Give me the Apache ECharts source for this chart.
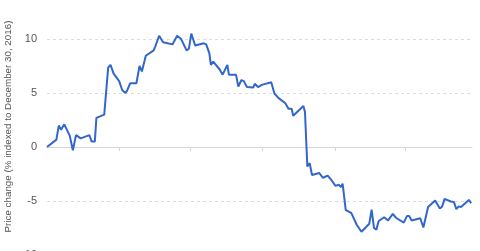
<!DOCTYPE html>
<html>
<head>
<meta charset="utf-8">
<script src="https://cdn.jsdelivr.net/npm/echarts@6/dist/echarts.min.js"></script>
<style>
html,body{margin:0;padding:0;background:#fff;}
#chart{width:480px;height:251px;}
</style>
</head>
<body>
<div id="chart"></div>
<script>
var dates = [
'2016-12-30','2017-01-11','2017-01-14','2017-01-17','2017-01-21','2017-01-28','2017-02-01','2017-02-05','2017-02-07','2017-02-11',
'2017-02-22','2017-02-25','2017-03-01','2017-03-03','2017-03-13','2017-03-18','2017-03-21','2017-03-25','2017-04-01','2017-04-05',
'2017-04-09','2017-04-11','2017-04-15','2017-04-23','2017-04-27','2017-04-30','2017-05-05','2017-05-15','2017-05-17','2017-05-22',
'2017-05-24','2017-05-27','2017-06-08','2017-06-14','2017-06-19','2017-06-26','2017-06-29','2017-07-02','2017-07-07','2017-07-18',
'2017-07-21','2017-07-25','2017-07-27','2017-07-30','2017-08-07','2017-08-11','2017-08-13','2017-08-17','2017-08-19','2017-08-28',
'2017-08-31','2017-09-02','2017-09-04','2017-09-07','2017-09-11','2017-09-19','2017-09-21','2017-09-25','2017-09-30','2017-10-12',
'2017-10-16','2017-10-21','2017-10-30','2017-11-03','2017-11-07','2017-11-09','2017-11-22','2017-11-24','2017-11-27','2017-11-30',
'2017-12-03','2017-12-12','2017-12-17','2017-12-23','2017-12-28','2018-01-02','2018-01-06','2018-01-09','2018-01-11','2018-01-15',
'2018-01-22','2018-01-29','2018-02-04','2018-02-14','2018-02-17','2018-02-20','2018-02-23','2018-02-26','2018-03-05','2018-03-07',
'2018-03-10','2018-03-16','2018-03-20','2018-03-30','2018-04-03','2018-04-06','2018-04-09','2018-04-20','2018-04-24','2018-04-30',
'2018-05-09','2018-05-15','2018-05-18','2018-05-21','2018-05-29','2018-06-02','2018-06-05','2018-06-08','2018-06-11','2018-06-21',
'2018-06-24'
];
var priceChange = [
0,0.68,1.98,1.6,2.1,1.05,-0.3,1.1,1.17,0.8,
1.1,0.5,0.5,2.7,3.0,7.35,7.6,6.8,6.1,5.25,
5.0,5.2,5.9,5.9,7.5,7.0,8.45,8.95,9.3,10.3,
10.2,9.7,9.5,10.3,10.0,8.95,9.1,10.5,9.4,9.6,
9.5,8.7,7.6,7.9,7.2,6.7,6.7,7.6,6.7,6.7,
5.6,5.7,6.2,6.1,5.55,5.5,5.85,5.55,5.75,6.0,
4.95,4.55,4.05,3.55,3.55,2.9,3.8,3.25,-1.8,-1.5,
-2.6,-2.4,-2.85,-2.65,-3.1,-3.6,-3.5,-3.7,-3.4,-5.85,
-6.1,-7.2,-7.85,-7.1,-5.8,-7.5,-7.65,-6.85,-6.5,-6.6,
-6.8,-6.2,-6.55,-7.0,-6.4,-6.4,-6.8,-6.6,-7.45,-5.55,
-4.95,-5.7,-5.5,-4.8,-5.05,-5.1,-5.75,-5.5,-5.55,-4.9,
-5.2
];
var quarterTicks = ['2017-04-01','2017-07-01','2017-10-01','2018-01-01','2018-04-01'];
var yTicks = [-10,-5,0,5,10];
var axisTitle = 'Price change (% indexed to December 30, 2016)';

var chart = echarts.init(document.getElementById('chart'), null, {renderer:'canvas'});
var seriesData = dates.map(function(d,i){ return [d, priceChange[i]]; });
chart.setOption({
  animation:false,
  grid:{left:47,right:8,top:39,height:216,containLabel:false,outerBoundsMode:'none'},
  xAxis:{
    type:'time',
    min:'2016-12-30',
    max:'2018-06-25',
    axisLine:{onZero:true,lineStyle:{color:'#d6d6d6',width:1}},
    axisTick:{show:true,length:4,customValues:quarterTicks.map(function(s){return +new Date(s+'T00:00:00Z');}),lineStyle:{color:'#d6d6d6'}},
    axisLabel:{show:false},
    splitLine:{show:false}
  },
  yAxis:{
    type:'value',
    min:yTicks[0],
    max:yTicks[yTicks.length-1],
    interval:5,
    axisLine:{show:false},
    axisTick:{show:false},
    axisLabel:{color:'#555',fontSize:11,fontFamily:'Liberation Sans, Arial, sans-serif',margin:10},
    splitLine:{show:true,lineStyle:{color:'#dddddd',type:[3,3],width:1}}
  },
  graphic:[{
    type:'text',
    x:8, y:126.5,
    rotation:Math.PI/2,
    style:{text:axisTitle,fill:'#555',fontSize:9.8,fontFamily:'Liberation Sans, Arial, sans-serif',align:'center',verticalAlign:'middle'}
  }],
  series:[{
    type:'line',
    data:seriesData,
    showSymbol:false,
    clip:false,
    lineStyle:{color:'#3366cc',width:2},
    itemStyle:{color:'#3366cc'}
  }]
});
</script>
</body>
</html>
